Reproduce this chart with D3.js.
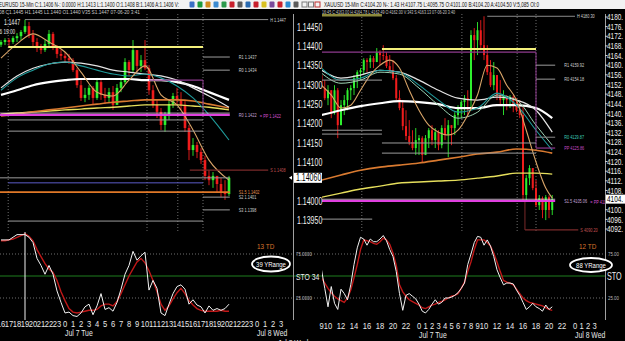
<!DOCTYPE html>
<html>
<head>
<meta charset="utf-8">
<script src="https://cdn.jsdelivr.net/npm/d3@7"></script>
<style>
  html, body { margin: 0; background: #000; }
  svg { display: block; }
</style>
</head>
<body>
<svg id="chart" width="625" height="341"></svg>
<script>
// ---------- EURUSD window (left), 30-minute bars starting 16:00 Jul 6 ----------
// times are hours relative to 00:00 Jul 7
const leftBarStart = -8
const leftOpen0 = 1.14405
const leftClose = [1.14412, 1.14417, 1.14412, 1.14422, 1.14427, 1.14438, 1.14453, 1.14430, 1.14412, 1.14396,
  1.14391, 1.14407, 1.14433, 1.14401, 1.14381, 1.14376, 1.14370, 1.14365, 1.14339, 1.14300,
  1.14267, 1.14275, 1.14293, 1.14267, 1.14308, 1.14275, 1.14267, 1.14282, 1.14249, 1.14293,
  1.14308, 1.14360, 1.14339, 1.14391, 1.14350, 1.14365, 1.14344, 1.14287, 1.14249, 1.14231,
  1.14197, 1.14220, 1.14251, 1.14272, 1.14262, 1.14249, 1.14189, 1.14132, 1.14145, 1.14127,
  1.14106, 1.14065, 1.14054, 1.14065, 1.14044, 1.14023, 1.14018, 1.14060]
const leftHigh = [1.14417, 1.14422, 1.14422, 1.14427, 1.14435, 1.14443, 1.14470, 1.14464, 1.14443, 1.14422,
  1.14407, 1.14417, 1.14443, 1.14438, 1.14404, 1.14391, 1.14386, 1.14381, 1.14370, 1.14344,
  1.14313, 1.14293, 1.14300, 1.14298, 1.14319, 1.14313, 1.14293, 1.14293, 1.14298, 1.14303,
  1.14319, 1.14370, 1.14365, 1.14417, 1.14386, 1.14378, 1.14417, 1.14352, 1.14300, 1.14262,
  1.14241, 1.14231, 1.14262, 1.14280, 1.14293, 1.14282, 1.14262, 1.14197, 1.14163, 1.14153,
  1.14137, 1.14117, 1.14080, 1.14075, 1.14065, 1.14060, 1.14054, 1.14065]
const leftLow = [1.14399, 1.14404, 1.14401, 1.14407, 1.14412, 1.14417, 1.14433, 1.14422, 1.14401, 1.14386,
  1.14381, 1.14386, 1.14401, 1.14391, 1.14370, 1.14365, 1.14360, 1.14355, 1.14334, 1.14293,
  1.14259, 1.14256, 1.14262, 1.14251, 1.14262, 1.14262, 1.14251, 1.14256, 1.14236, 1.14262,
  1.14282, 1.14303, 1.14324, 1.14334, 1.14334, 1.14334, 1.14339, 1.14275, 1.14241, 1.14215,
  1.14184, 1.14179, 1.14210, 1.14241, 1.14251, 1.14236, 1.14179, 1.14106, 1.14117, 1.14111,
  1.14096, 1.14054, 1.14041, 1.14034, 1.14023, 1.14010, 1.14003, 1.14013]

const leftMaTimes = [-8, -6, -4, -2, 0, 2, 4, 6, 8, 10, 12, 14, 16, 18, 20.5]
const leftFast = [1.14370, 1.14407, 1.14433, 1.14412, 1.14386, 1.14334, 1.14282, 1.14272, 1.14313, 1.14350, 1.14275, 1.14249, 1.14184, 1.14106, 1.14054]
const leftTeal = [1.14287, 1.14319, 1.14339, 1.14355, 1.14360, 1.14350, 1.14339, 1.14329, 1.14324, 1.14329, 1.14319, 1.14298, 1.14267, 1.14223, 1.14158]
const leftWhiteFast = [1.14293, 1.14324, 1.14344, 1.14355, 1.14360, 1.14357, 1.14350, 1.14339, 1.14334, 1.14329, 1.14324, 1.14313, 1.14293, 1.14272, 1.14243]
const leftWhiteSlow = [1.14275, 1.14287, 1.14300, 1.14308, 1.14313, 1.14316, 1.14316, 1.14316, 1.14316, 1.14313, 1.14313, 1.14308, 1.14298, 1.14282, 1.14262]
const leftOrange = [1.14220, 1.14225, 1.14231, 1.14236, 1.14241, 1.14246, 1.14251, 1.14256, 1.14259, 1.14262, 1.14262, 1.14262, 1.14259, 1.14251, 1.14241]
const leftYellow = [1.14225, 1.14228, 1.14231, 1.14233, 1.14236, 1.14238, 1.14241, 1.14243, 1.14246, 1.14249, 1.14249, 1.14249, 1.14246, 1.14243, 1.14236]

const leftStoK = [91, 91, 91, 94, 97, 97, 97, 94, 88, 70, 62, 52, 62, 52, 33, 20, 8, 9, 5, 4,
  8, 15, 18, 6, 16, 30, 12, 14, 10, 20, 35, 52, 62, 78, 68, 73, 77, 34, 45, 36,
  8, 5, 18, 30, 38, 40, 35, 18, 23, 17, 15, 8, 16, 11, 13, 11, 13, 18]
const leftStoD = [90, 90, 91, 92, 94, 96, 98, 95, 90, 80, 72, 64, 58, 54, 45, 32, 22, 13, 9, 8,
  9, 10, 11, 11, 12, 16, 18, 18, 16, 21, 30, 40, 50, 58, 66, 70, 65, 56, 45, 32,
  18, 11, 16, 24, 31, 36, 30, 22, 17, 13, 11, 10, 10, 10, 10, 11, 10, 10]

// price, from hour, to hour, kind, label, second label
const leftLevels = [
  [1.1447, -5, 25.4, 'hi', 'H 1.1447'],
  [1.14399, -7.1, 17.25, 'yellow'],
  [1.14373, 17.25, 20.6, 'grey', 'R1 1.1437'],
  [1.14339, 17.25, 20.6, 'grey', 'R0 1.1434'],
  [1.14313, 10.5, 17.25, 'purple'],
  [1.14210, -7.1, 17.25, 'grey'],
  [1.14181, -7.1, 17.25, 'grey'],
  [1.14223, -8.2, 20.6, 'magenta', 'R0 1.1422', '= PP 1.1422'],
  [1.14080, 15.6, 25.4, 'darkred', 'S 1.1408'],
  [1.14060, -8.2, 20.6, 'grey'],
  [1.14047, -7.1, 17.25, 'blue'],
  [1.14023, -8.2, 20.6, 'orange', 'S1.5 1.1402'],
  [1.14010, 17.25, 20.6, 'grey', 'S2 1.1401'],
  [1.13977, 17.25, 20.6, 'grey', 'S3 1.1398'],
  [1.13948, -7.1, 17.25, 'grey']
]
const leftEdges = [[17.25, 1.14313, 1.14223, 'purple']]
const leftSessions = [-7.1, 10.25, 14.1, 17.25]
const leftCursor = -5
const leftPriceTicks = [1.1445, 1.144, 1.1435, 1.143, 1.1425, 1.142, 1.1415, 1.141, 1.14, 1.1395]
const leftHours = [-8, -7, -6, -5, -4, -3, -2, -1, 0, 1, 2, 3, 4, 5, 6, 7, 8, 9, 10, 11, 12, 13, 14, 15, 16, 17, 18, 19, 20, 21, 22, 23, 24, 25, 26, 27]

// ---------- XAUUSD window (right), 30-minute bars starting 09:00 Jul 6 ----------
const rightBarStart = -15
const rightOpen0 = 4155.9
const rightClose = [4150.5, 4146.3, 4149.6, 4140.5, 4149.6, 4135.1, 4143.4, 4145.5, 4149.6, 4150.5,
  4154.6, 4157.1, 4157.9, 4162.1, 4161.3, 4162.9, 4161.3, 4165.4, 4164.2, 4163.8,
  4159.6, 4157.9, 4154.6, 4146.3, 4142.2, 4134.7, 4130.6, 4128.1, 4125.6, 4128.9,
  4129.7, 4122.7, 4129.7, 4133.0, 4128.9, 4132.2, 4126.8, 4133.9, 4131.0, 4135.1,
  4133.9, 4139.3, 4142.2, 4144.7, 4146.3, 4145.5, 4172.5, 4170.4, 4174.5, 4168.3,
  4164.2, 4157.1, 4151.7, 4155.9, 4147.6, 4145.5, 4147.2, 4145.5, 4146.7, 4143.4,
  4141.3, 4139.3, 4106.1, 4113.1, 4117.3, 4109.0, 4101.9, 4104.8, 4099.9, 4105.2,
  4099.9, 4104.4]
const rightHigh = [4156.7, 4153.8, 4151.7, 4149.6, 4151.7, 4150.5, 4145.5, 4147.6, 4150.5, 4151.7,
  4155.9, 4157.9, 4158.8, 4162.9, 4162.9, 4164.2, 4163.8, 4167.1, 4166.2, 4168.3,
  4165.4, 4164.2, 4162.1, 4155.9, 4149.6, 4145.5, 4141.3, 4137.2, 4133.0, 4133.9,
  4131.0, 4130.5, 4131.0, 4133.9, 4135.1, 4133.9, 4133.0, 4135.1, 4138.0, 4137.2,
  4135.1, 4140.5, 4143.4, 4145.5, 4147.6, 4149.6, 4174.5, 4175.4, 4177.9, 4178.7,
  4180.3, 4168.3, 4162.1, 4161.3, 4155.9, 4153.8, 4149.6, 4147.6, 4147.6, 4147.6,
  4146.3, 4145.5, 4143.4, 4114.4, 4118.5, 4117.3, 4112.3, 4106.1, 4105.5, 4106.1,
  4106.0, 4106.1]
const rightLow = [4149.6, 4145.5, 4143.4, 4138.0, 4139.5, 4129.7, 4135.1, 4139.3, 4141.3, 4145.5,
  4147.6, 4150.5, 4153.8, 4155.9, 4157.1, 4158.8, 4158.8, 4161.3, 4160.0, 4162.1,
  4158.8, 4157.1, 4153.8, 4145.5, 4141.3, 4133.0, 4128.9, 4126.8, 4124.7, 4122.7,
  4122.7, 4119.4, 4122.7, 4125.6, 4126.8, 4125.6, 4124.7, 4125.5, 4128.9, 4121.8,
  4126.8, 4131.0, 4135.1, 4138.0, 4139.3, 4138.4, 4141.3, 4162.1, 4164.2, 4166.2,
  4162.1, 4155.9, 4150.9, 4149.6, 4145.5, 4143.4, 4139.3, 4141.3, 4142.2, 4140.5,
  4140.5, 4138.0, 4104.0, 4103.2, 4110.2, 4108.1, 4101.1, 4099.9, 4096.5, 4095.7,
  4096.5, 4097.8]

const rightMaTimes = [-15, -12, -9, -6, -3, 0, 3, 6, 9, 12, 15, 18, 20.5]
const rightWhiteSlow = [4139.3, 4141.3, 4143.0, 4144.2, 4145.1, 4144.7, 4143.8, 4142.2, 4142.2, 4143.4, 4143.4, 4142.2, 4138.0]
const rightWhiteFast = [4157.9, 4154.6, 4155.9, 4157.9, 4157.1, 4153.8, 4149.6, 4146.3, 4145.5, 4146.7, 4145.5, 4141.3, 4132.2]
const rightTeal = [4158.8, 4153.8, 4154.6, 4157.9, 4157.1, 4151.7, 4145.5, 4140.5, 4142.2, 4148.4, 4143.4, 4133.0, 4124.7]
const rightMint = [4156.7, 4152.5, 4153.8, 4157.1, 4156.3, 4150.5, 4143.4, 4138.0, 4140.5, 4147.6, 4145.5, 4135.1, 4126.8]
const rightOrange = [4112.3, 4114.4, 4116.4, 4117.7, 4118.5, 4119.4, 4120.6, 4121.8, 4123.1, 4123.9, 4125.2, 4124.7, 4123.5]
const rightYellow = [4105.2, 4106.9, 4108.6, 4109.8, 4111.1, 4111.5, 4111.9, 4112.3, 4113.1, 4114.0, 4115.2, 4115.2, 4114.8]
const rightFastTimes = [-15, -13.5, -12, -10.5, -9, -7.5, -6, -4.5, -3, -1.5, 0, 1.5, 3, 4.5, 6, 7.5, 9, 10.5, 12, 13.5, 15, 16.5, 18, 19.5, 20.5]
const rightFast = [4151.7, 4147.6, 4142.2, 4143.4, 4149.6, 4155.9, 4160.0, 4162.1, 4158.8, 4149.6, 4141.3, 4135.1, 4132.2,
  4131.0, 4133.0, 4139.3, 4147.6, 4160.0, 4158.8, 4151.7, 4145.5, 4133.0, 4119.8, 4109.0, 4104.8]

const rightStoK = [57, 36, 15, 38, 19, 12, 35, 30, 23, 40, 63, 82, 94, 92, 85, 92, 89, 89, 92, 96,
  90, 80, 72, 55, 30, 11, 28, 30, 27, 24, 18, 10, 8, 12, 18, 23, 18, 20, 25, 25,
  26, 28, 31, 36, 42, 63, 75, 88, 95, 94, 85, 91, 84, 72, 57, 48, 40, 42, 42, 41,
  34, 28, 20, 12, 15, 19, 15, 13, 10, 17, 12, 15]
const rightStoD = [48, 42, 36, 31, 27, 24, 22, 20, 25, 34, 48, 63, 80, 91, 90, 89, 87, 86, 89, 93,
  91, 86, 76, 62, 40, 32, 27, 23, 21, 19, 17, 14, 13, 15, 17, 18, 20, 21, 23, 25,
  27, 28, 30, 36, 43, 55, 66, 80, 91, 91, 91, 88, 84, 76, 66, 55, 45, 43, 42, 40,
  35, 30, 25, 22, 20, 19, 18, 17, 16, 14, 12, 11]

const rightLevels = [
  [4180.3, 10.5, 24, 'hi', 'H 4180.30'],
  [4180.8, -15.2, -5.7, 'olive'],
  [4166.7, -5.7, 18, 'yellow'],
  [4165.4, -15.2, 18, 'purple'],
  [4160.0, 18, 20.95, 'grey', 'R1 4159.92'],
  [4154.2, 18, 20.95, 'grey', 'R0 4154.18'],
  [4153.8, -15.2, -5.7, 'grey'],
  [4133.0, -15.2, -5.7, 'grey'],
  [4131.4, -15.2, -5.7, 'grey'],
  [4130.1, 18, 20.95, 'teal', 'R0 4129.87'],
  [4127.7, -5.7, 18, 'grey'],
  [4125.6, 18, 20.95, 'purple', 'PP 4125.86'],
  [4123.5, -5.7, 18, 'grey'],
  [4103.6, -15.2, 20.95, 'magenta', 'S1.5 4105.06', '= PP 4105'],
  [4096.1, -15.2, -7.2, 'grey'],
  [4091.6, 16.3, 24.5, 'darkred', 'S 4090.20']
]
const rightEdges = [[18, 4165.4, 4125.6, 'purple'], [16.3, 4103.6, 4091.6, 'darkred']]
const rightSessions = [-8.8, 6.6, 15.1, 18]
const rightPriceTicks = [4180, 4176, 4172, 4168, 4164, 4160, 4156, 4152, 4148, 4144, 4140, 4136,
  4132, 4128, 4124, 4120, 4116, 4112, 4108, 4100, 4096, 4092]
const rightHours = [-15, -14, -12, -10, -8, -6, -4, -2, 0, 1, 2, 3, 4, 5, 6, 7, 8, 9, 10, 12, 14, 16, 18, 20, 22, 24, 25, 26, 27]

const leftTitle = 'EURUSD 15-Min  C:1.1406  N-: 0.0000  H:1.1413  L:1.1400  O:1.1408  B:1.1406  A:1.1406  V:'
const leftInfo = '08 C1.1445 H1.1445 L1.1440 O1.1440 V35 S1.1447 07-06-20 3:41'
const rightTitle = 'XAUUSD 15-Min  C:4104.20  N-: 1.43  H:4107.75  L:4095.75  O:4101.00  B:4104.20  A:4104.50  V:5,085  OI:0'
const rightInfo = '16:45 C:4163.00 H:4164.78 L:4162.49 O:4162.00 V:343 S:4163.13 07-06-20 3:40'
const toolIcons = ['#3a6fc4', '#1c9a3c', '#d28a1c', '#3a8ad0', '#2c9a4c', '#c8202c', '#5a5a5a',
  '#2a6ab0', '#c8202c', '#d8c020', '#7a4a9a', '#c8202c', '#2a8ad0', '#5a5a5a']

// ---------------------------------------------------------------------------
const svg = d3.select('#chart')
const FONT = '"Liberation Sans", Arial, sans-serif'
const barStep = 0.5
const defs = svg.append('defs')

svg.append('rect').attr('width', 625).attr('height', 341).attr('fill', '#000')

const clip = (id, x, y, w, h) => {
  defs.append('clipPath').attr('id', id)
    .append('rect').attr('x', x).attr('y', y).attr('width', w).attr('height', h)
  return `url(#${id})`
}

// the terminal's fonts are narrow, so text is squeezed horizontally
const label = (g, x, y, s, o = {}) => g.append('text')
  .attr('transform', `translate(${x},${y}) scale(${o.sx || 0.68},1)`)
  .attr('font-family', FONT)
  .attr('font-size', o.size || 9)
  .attr('fill', o.fill || '#e6e6e6')
  .attr('text-anchor', o.anchor || 'start')
  .text(s)

const fitText = (g, x, y, s, w, fill, size) => g.append('text')
  .attr('x', x).attr('y', y)
  .attr('textLength', w).attr('lengthAdjust', 'spacingAndGlyphs')
  .attr('font-family', FONT).attr('font-size', size)
  .attr('fill', fill)
  .text(s)

const maStyle = {
  orange: ['#d97a30', 1.6],
  yellow: ['#e6df5c', 1.4],
  whiteSlow: ['#ffffff', 2.2],
  whiteFast: ['#e4e4e4', 1.2],
  teal: ['#1f9a9a', 1.1],
  mint: ['#9fd6b6', 1],
  fast: ['#d8a468', 1.1]
}

const levelStyle = {
  hi: { stroke: '#8c8c8c', w: 1, text: '#d0d0d0', dx: 2 },
  grey: { stroke: '#9c9c9c', w: 1, text: '#d0d0d0', dx: 9 },
  yellow: { stroke: '#f4f07c', w: 2 },
  olive: { stroke: '#8d8a3c', w: 3 },
  purple: { stroke: '#8e3a8e', w: 1.2, text: '#c24ac2', dx: 9 },
  magenta: { stroke: '#e040e0', w: 2, text: '#c8a8d8', text2: '#d050d0', dx: 9 },
  darkred: { stroke: '#7a2a2a', w: 1.2, text: '#c05050', dx: 2 },
  blue: { stroke: '#5c5cc8', w: 1 },
  orange: { stroke: '#e07828', w: 1.6, text: '#e09050', dx: 9 },
  teal: { stroke: '#8a8a8a', w: 1, text: '#3ccfb8', dx: 9 }
}

const stoY = d3.scaleLinear().domain([0, 100]).range([320, 232])

const drawPanel = cfg => {
  const { x, y } = cfg
  const [px0, px1] = cfg.plot
  const g = svg.append('g').attr('clip-path', clip(cfg.id + 'p', px0, 14, px1 - px0, 218))

  g.append('g').selectAll('line').data(cfg.sessions).join('line')
    .attr('x1', d => x(d)).attr('x2', d => x(d))
    .attr('y1', 14).attr('y2', 232)
    .attr('stroke', '#8a8a8a').attr('stroke-width', 0.8).attr('stroke-dasharray', '1,2')

  const bars = cfg.close.map((c, i) => ({
    t: cfg.start + i * barStep,
    o: i ? cfg.close[i - 1] : cfg.open0,
    h: cfg.high[i],
    l: cfg.low[i],
    c
  }))
  const colour = d => (d.c >= d.o ? '#2ef02e' : '#f01c1c')
  const cg = g.append('g')
  cg.selectAll('line').data(bars).join('line')
    .attr('x1', d => x(d.t)).attr('x2', d => x(d.t))
    .attr('y1', d => y(d.h)).attr('y2', d => y(d.l))
    .attr('stroke', colour).attr('stroke-width', 0.9)
  cg.selectAll('rect').data(bars).join('rect')
    .attr('x', d => x(d.t) - cfg.body / 2)
    .attr('width', cfg.body)
    .attr('y', d => y(Math.max(d.o, d.c)))
    .attr('height', d => Math.max(1, Math.abs(y(d.o) - y(d.c))))
    .attr('fill', colour)

  const line = times => d3.line().x((d, i) => x(times[i])).y(d => y(d)).curve(d3.curveMonotoneX)
  const mg = g.append('g').attr('fill', 'none')
  cfg.averages.forEach(([times, vals, key]) => {
    mg.append('path').datum(vals)
      .attr('stroke', maStyle[key][0]).attr('stroke-width', maStyle[key][1])
      .attr('d', line(times))
  })

  // pivot / support / resistance levels
  const lg = g.append('g')
  lg.selectAll('line.edge').data(cfg.edges).join('line').attr('class', 'edge')
    .attr('x1', d => x(d[0])).attr('x2', d => x(d[0]))
    .attr('y1', d => y(d[1])).attr('y2', d => y(d[2]))
    .attr('stroke', d => levelStyle[d[3]].stroke).attr('stroke-width', 1)
  lg.selectAll('line.glow').data(cfg.levels.filter(d => d[3] === 'magenta')).join('line').attr('class', 'glow')
    .attr('x1', d => x(d[1])).attr('x2', d => x(d[2]))
    .attr('y1', d => y(d[0]) - 1.8).attr('y2', d => y(d[0]) - 1.8)
    .attr('stroke', '#f0d0f0').attr('stroke-width', 0.8)
  lg.selectAll('line.lvl').data(cfg.levels).join('line').attr('class', 'lvl')
    .attr('x1', d => x(d[1])).attr('x2', d => x(d[2]))
    .attr('y1', d => y(d[0])).attr('y2', d => y(d[0]))
    .attr('stroke', d => levelStyle[d[3]].stroke)
    .attr('stroke-width', d => levelStyle[d[3]].w)
  cfg.levels.filter(d => d[4]).forEach(d => {
    const s = levelStyle[d[3]]
    const first = label(lg, x(d[2]) + s.dx, y(d[0]) + 2, d[4], { size: 5.5, fill: s.text, sx: 0.7 })
    if (d[5]) {
      const w = first.node().getBBox().width * 0.7
      label(lg, x(d[2]) + s.dx + w + 3, y(d[0]) + 3, d[5], { size: 5.5, fill: s.text2, sx: 0.7 })
    }
  })

  // stochastic sub-panel
  const [gx0, gx1] = cfg.grid
  const grid = svg.append('g')
  grid.selectAll('line').data([75, 50, 25]).join('line')
    .attr('x1', gx0).attr('x2', gx1)
    .attr('y1', d => stoY(d)).attr('y2', d => stoY(d))
    .attr('stroke', d => (d === 50 ? '#1f7f1f' : '#8a8a8a'))
    .attr('stroke-width', d => (d === 50 ? 1 : 0.8))
    .attr('stroke-dasharray', d => (d === 50 ? null : '1,2'))

  const sg = svg.append('g').attr('clip-path', clip(cfg.id + 's', px0, 232, px1 - px0, 90))
  const stoLine = d3.line().x((d, i) => x(cfg.start + i * barStep)).y(d => stoY(d))
  sg.append('path').datum(cfg.stoD)
    .attr('fill', 'none').attr('stroke', '#c01818').attr('stroke-width', 1.4).attr('d', stoLine)
  sg.append('path').datum(cfg.stoK)
    .attr('fill', 'none').attr('stroke', '#f2f2f2').attr('stroke-width', 1).attr('d', stoLine)

  // time axis
  const ax = svg.append('g')
  ax.selectAll('text').data(cfg.hours).join('text')
    .attr('transform', d => `translate(${x(d)},${cfg.hourY}) scale(0.8,1)`)
    .attr('text-anchor', 'middle')
    .attr('font-family', FONT).attr('font-size', 9.5).attr('fill', '#e8e8e8')
    .text(d => ((d % 24) + 24) % 24)
  label(ax, x(0), cfg.hourY + 9, 'Jul 7 Tue', { size: 9.5, sx: 0.72 })
  label(ax, x(24), cfg.hourY + 9, 'Jul 8 Wed', { size: 9.5, sx: 0.72 })
}

const left = {
  id: 'eur',
  plot: [0, 293],
  grid: [0, 293],
  x: d3.scaleLinear().domain([0, 24]).range([65, 257]),
  y: d3.scaleLinear().domain([1.14, 1.1445]).range([201, 27.3]),
  start: leftBarStart, open0: leftOpen0,
  close: leftClose, high: leftHigh, low: leftLow,
  body: 2.6,
  sessions: leftSessions,
  averages: [
    [leftMaTimes, leftYellow, 'yellow'],
    [leftMaTimes, leftOrange, 'orange'],
    [leftMaTimes, leftWhiteSlow, 'whiteSlow'],
    [leftMaTimes, leftWhiteFast, 'whiteFast'],
    [leftMaTimes, leftTeal, 'teal'],
    [leftMaTimes, leftFast, 'fast']
  ],
  levels: leftLevels, edges: leftEdges,
  stoK: leftStoK, stoD: leftStoD,
  hours: leftHours, hourY: 327
}

const right = {
  id: 'xau',
  plot: [322, 605],
  grid: [293, 605],
  x: d3.scaleLinear().domain([0, 24]).range([419, 575]),
  y: d3.scaleLinear().domain([4092, 4180]).range([229, 17]),
  start: rightBarStart, open0: rightOpen0,
  close: rightClose, high: rightHigh, low: rightLow,
  body: 2,
  sessions: rightSessions,
  averages: [
    [rightMaTimes, rightYellow, 'yellow'],
    [rightMaTimes, rightOrange, 'orange'],
    [rightMaTimes, rightWhiteSlow, 'whiteSlow'],
    [rightMaTimes, rightWhiteFast, 'whiteFast'],
    [rightMaTimes, rightMint, 'mint'],
    [rightMaTimes, rightTeal, 'teal'],
    [rightFastTimes, rightFast, 'fast']
  ],
  levels: rightLevels, edges: rightEdges,
  stoK: rightStoK, stoD: rightStoD,
  hours: rightHours, hourY: 329
}

drawPanel(left)
drawPanel(right)

// left stochastic cursor at the 19:00 high
svg.append('line')
  .attr('x1', left.x(leftCursor)).attr('x2', left.x(leftCursor))
  .attr('y1', 232).attr('y2', 320)
  .attr('stroke', '#f0f0f0').attr('stroke-width', 1)

// window frames
const frame = svg.append('g').attr('stroke', '#a0a0a0').attr('stroke-width', 1)
frame.append('line').attr('x1', 293.5).attr('x2', 293.5).attr('y1', 14).attr('y2', 320)
frame.append('line').attr('x1', 605.5).attr('x2', 605.5).attr('y1', 14).attr('y2', 320)

// price axes
const pa = svg.append('g')
pa.selectAll('text.l').data(leftPriceTicks).join('text').attr('class', 'l')
  .attr('transform', d => `translate(297,${left.y(d) + 3.5}) scale(0.7,1)`)
  .attr('font-family', FONT).attr('font-size', 10).attr('fill', '#f0f0f0')
  .text(d => d3.format('.5f')(d))
pa.selectAll('text.r').data(rightPriceTicks).join('text').attr('class', 'r')
  .attr('transform', d => `translate(607,${right.y(d) + 3.2}) scale(0.7,1)`)
  .attr('font-family', FONT).attr('font-size', 9.2).attr('fill', '#f0f0f0')
  .text(d => d + '.')
pa.selectAll('line.r').data(rightPriceTicks).join('line').attr('class', 'r')
  .attr('x1', 605).attr('x2', 607.5)
  .attr('y1', d => right.y(d)).attr('y2', d => right.y(d))
  .attr('stroke', '#d0d0d0')

// current price markers
const lastL = leftClose[leftClose.length - 1]
const lastR = rightClose[rightClose.length - 1]
pa.append('rect').attr('x', 294).attr('y', left.y(lastL) - 5).attr('width', 28).attr('height', 10).attr('fill', '#fff')
label(pa, 296, left.y(lastL) + 3.5, d3.format('.5f')(lastL), { size: 10, sx: 0.7, fill: '#000' })
pa.append('path').attr('d', `M289,${left.y(lastL)}l3,-2v4z`).attr('fill', '#fff')
pa.append('rect').attr('x', 606).attr('y', right.y(lastR) - 4.5).attr('width', 19).attr('height', 9).attr('fill', '#fff')
label(pa, 607, right.y(lastR) + 3.2, Math.floor(lastR) + '.', { size: 9.2, sx: 0.7, fill: '#000' })

// stochastic scale labels
label(pa, 296, stoY(75) + 2, '75.0000', { size: 5.5, fill: '#bbb', sx: 0.8 })
label(pa, 296, stoY(50) + 3.5, 'STO  34', { size: 9.5, fill: '#eee', sx: 0.72 })
label(pa, 296, stoY(25) + 2, '25.0000', { size: 5.5, fill: '#bbb', sx: 0.8 })
label(pa, 608, stoY(75) + 2, '75.00', { size: 5.5, fill: '#bbb', sx: 0.8 })
label(pa, 607, stoY(50) + 4, 'STO', { size: 10, fill: '#eee', sx: 0.72 })
label(pa, 608, stoY(25) + 2, '25.00', { size: 5.5, fill: '#bbb', sx: 0.8 })

// TD count and range callouts
const note = svg.append('g')
label(note, 257, 249, '13 TD', { size: 8, fill: '#d8742c', sx: 0.8 })
note.append('ellipse').attr('cx', 271).attr('cy', 264).attr('rx', 19).attr('ry', 7.5)
  .attr('fill', '#000').attr('stroke', '#fff').attr('stroke-width', 1.8)
label(note, 271, 267, '39 YRange', { size: 8, fill: '#fff', sx: 0.75, anchor: 'middle' })
label(note, 579, 249, '12 TD', { size: 8, fill: '#d8742c', sx: 0.8 })
note.append('ellipse').attr('cx', 591).attr('cy', 265).attr('rx', 21).attr('ry', 7)
  .attr('fill', '#000').attr('stroke', '#fff').attr('stroke-width', 1.8)
label(note, 591, 268, '88 YRange', { size: 8, fill: '#fff', sx: 0.75, anchor: 'middle' })

// crosshair readout of the 19:00 high
label(note, 4, 25, '1.1447', { size: 8.5, sx: 0.62 })
label(note, -3, 33.5, '06 19:00', { size: 7.5, sx: 0.62 })
label(note, 278, 346, 'Jul 8 Wed', { size: 9.5, sx: 0.72 })

// title bars
const head = svg.append('g')
head.append('rect').attr('width', 625).attr('height', 9).attr('fill', '#f2f2f2')
fitText(head, -1, 7, leftTitle, 180, '#111', 7.5)
fitText(head, 324, 7, rightTitle, 215, '#111', 7.5)
fitText(head, -1, 14, leftInfo, 141, '#c8c8c8', 6)
fitText(head, 322, 14, rightInfo, 133, '#c8c8c8', 6)
const iconX = d3.scalePoint().domain(d3.range(toolIcons.length)).range([192, 296])
head.selectAll('rect.icon').data(toolIcons).join('rect').attr('class', 'icon')
  .attr('x', (d, i) => iconX(i) - 2.5).attr('y', 1.5)
  .attr('width', 5).attr('height', 6).attr('rx', 1)
  .attr('fill', d => d)
head.selectAll('rect.win').data(['#7a7a7a', '#7a7a7a', '#c03030']).join('rect').attr('class', 'win')
  .attr('x', (d, i) => 302 + i * 6.5).attr('y', 2).attr('width', 5).attr('height', 5)
  .attr('fill', 'none').attr('stroke', d => d)
</script>
</body>
</html>
